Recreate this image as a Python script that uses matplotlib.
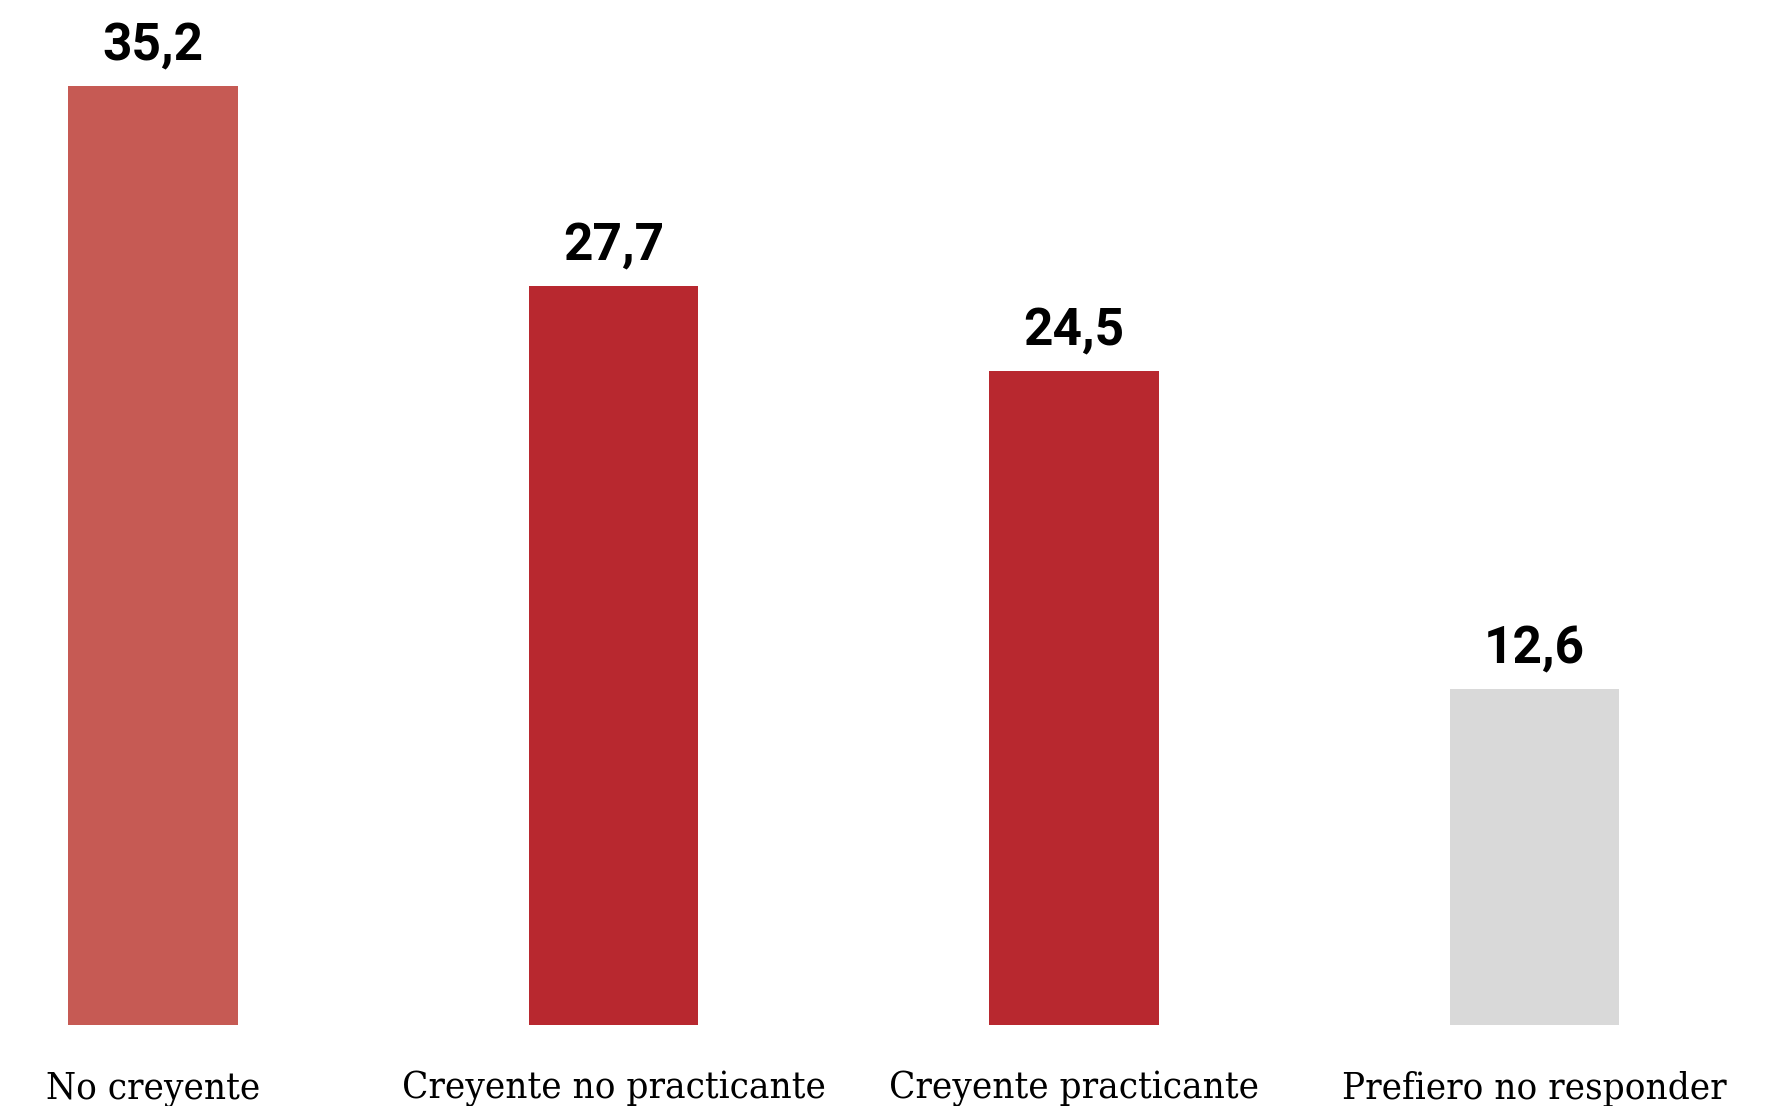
import matplotlib
matplotlib.use('Agg')
import matplotlib.pyplot as plt

categories = ['No creyente', 'Creyente no practicante', 'Creyente practicante', 'Prefiero no responder']
values = [35.2, 27.7, 24.5, 12.6]
labels = ['35,2', '27,7', '24,5', '12,6']
colors = ['#C65A54', '#B8282F', '#B8282F', '#D9D9D9']

fig = plt.figure(figsize=(17.82, 11.06), dpi=100)
ax = fig.add_axes([0, 81 / 1106, 1, 1025 / 1106])

x = range(len(categories))
ax.bar(x, values, width=0.367, color=colors)
ax.set_xlim(-153 / 460.5, (1782 - 153) / 460.5)
ax.set_ylim(0, 1025 / 26.68)

for i, (v, lab) in enumerate(zip(values, labels)):
    ax.annotate(lab, (i, v), xytext=(0, 18.5), textcoords='offset points',
                ha='center', va='baseline', fontsize=37, fontweight='bold',
                family='Roboto')
    ax.annotate(categories[i], (i, 0), xytext=(0, -53), textcoords='offset points',
                ha='center', va='baseline', fontsize=27.5, family='DejaVu Serif',
                fontstretch='condensed')

ax.axis('off')
fig.savefig('out.png', dpi=100)
